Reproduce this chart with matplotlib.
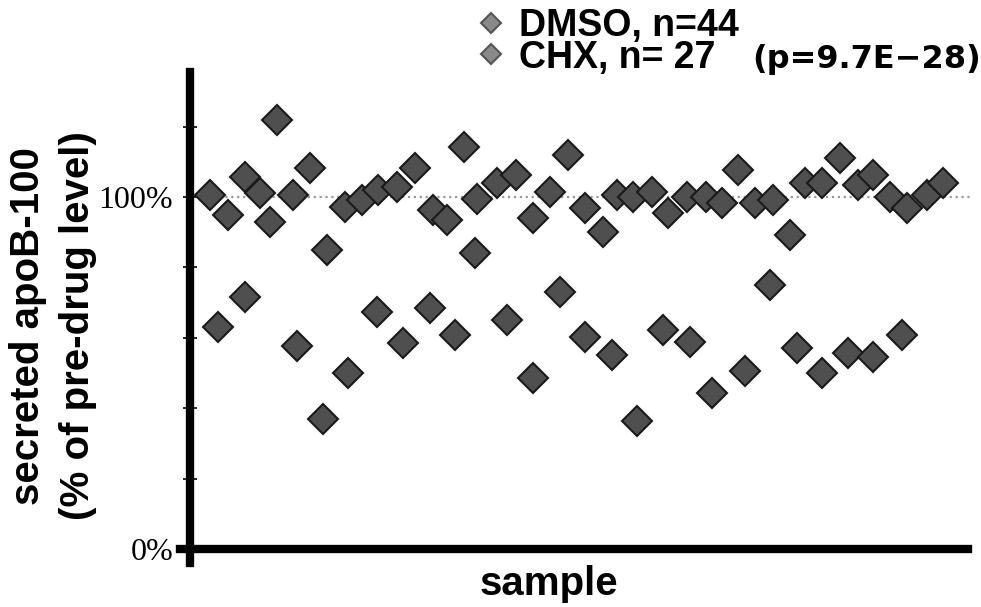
# -*- coding: utf-8 -*-

'''
secreted apoB-100 per sample, DMSO vs CHX
'''

# imports
import matplotlib
matplotlib.use('Agg')
import matplotlib.pyplot as plt
from matplotlib.ticker import FixedLocator, FuncFormatter

################################################################################

# DMSO, n=44 (sample position, % of pre-drug level)
dmso_x = [1.9, 3.7, 5.3, 6.7, 7.7, 8.4, 9.9, 11.5, 14.9, 16.5, 18.1, 19.9,
          21.6, 23.4, 24.7, 26.3, 27.6, 29.5, 31.3, 33.0, 34.6, 36.3, 38.0,
          39.7, 41.1, 42.6, 44.4, 46.0, 47.8, 49.6, 51.2, 52.7, 54.3, 56.1,
          57.7, 59.1, 60.8, 62.5, 64.2, 65.7, 67.3, 68.9, 70.9, 72.4]
dmso_y = [100.6, 94.9, 105.7, 101.1, 92.9, 121.9, 100.6, 108.3, 97.2, 99.1,
          102.0, 102.8, 108.3, 96.3, 93.4, 114.2, 99.4, 104.0, 106.3, 94.0,
          101.4, 112.0, 96.9, 90.0, 100.6, 100.0, 101.4, 95.4, 100.0, 100.0,
          98.3, 107.7, 98.3, 99.1, 89.2, 104.0, 104.0, 111.1, 103.4, 106.3,
          100.0, 96.9, 100.6, 104.0]

# CHX, n=27
chx_x = [2.7, 5.3, 10.3, 12.8, 13.2, 15.2, 18.0, 20.5, 23.1, 25.5, 27.4,
         30.5, 33.0, 35.6, 38.0, 40.6, 43.0, 45.5, 48.1, 50.2, 53.4, 55.8,
         58.4, 60.8, 63.3, 65.7, 68.5]
chx_y = [63.0, 71.5, 57.8, 37.0, 84.9, 50.1, 67.2, 58.4, 68.4, 60.7, 84.0,
         65.0, 48.7, 72.9, 60.1, 55.0, 36.5, 62.1, 58.7, 44.4, 50.7, 74.9,
         57.0, 49.9, 55.8, 54.4, 60.7]

labels = ['DMSO, n=44', 'CHX, n= 27']
p_text = '(p=9.7E\u221228)'
y_ticks = [0, 20, 40, 60, 80, 100, 120]
y_labelled = {0: '0%', 100: '100%'}

################################################################################

W, H = 981, 607
fig = plt.figure(figsize=(W / 100, H / 100), dpi=100)
ax = fig.add_axes([190 / W, (H - 549) / H, 780 / W, 477 / H])

ax.axhline(100, color='#9a9a9a', ls=':', lw=1.6, zorder=1)

mk = dict(ls='none', marker='D', ms=15, mfc='#4f4f4f', mec='#1a1a1a',
          mew=1.5, zorder=3)
h1, = ax.plot(dmso_x, dmso_y, **mk)
h2, = ax.plot(chx_x, chx_y, **mk)

ax.set_xlim(0, 75)
ax.set_ylim(0, 135.5)

for s in ['top', 'right']:
    ax.spines[s].set_visible(False)
ax.spines['left'].set_linewidth(6)
ax.spines['bottom'].set_linewidth(6)
ax.spines['left'].set_bounds(-4, 135.5)
ax.spines['bottom'].set_bounds(-1.0, 74.8)

ax.set_xticks([])
ax.yaxis.set_major_locator(FixedLocator(y_ticks))
ax.yaxis.set_major_formatter(FuncFormatter(lambda v, p: y_labelled.get(int(round(v)), '')))
ax.tick_params(axis='y', direction='inout', length=10, width=1.2, pad=7,
               labelsize=23)
for t in ax.get_yticklabels():
    t.set_fontfamily('Liberation Serif')

bold = dict(family='Liberation Sans', weight='bold')
fig.text(53 / W, 1 - 326 / H, 'secreted apoB-100\n(% of pre-drug level)',
         rotation=90, ha='center', va='center', fontsize=29, linespacing=1.38,
         **bold)
fig.text(549 / W, 1 - 595 / H, 'sample', ha='center', va='baseline',
         fontsize=29, **bold)

leg = ax.legend([h1, h2], labels, loc='upper left',
                bbox_to_anchor=(476 / W, 1 - 8 / H), bbox_transform=fig.transFigure,
                frameon=False, borderpad=0, borderaxespad=0, handlelength=0.8,
                handletextpad=0.35, labelspacing=-0.12, markerscale=0.7,
                prop=dict(size=27, **bold))
for hd in leg.legend_handles:
    hd.set_markerfacecolor('#8a8a8a')
    hd.set_markeredgecolor('#555555')
fig.text(752 / W, 1 - 68 / H, p_text, ha='left', va='baseline',
         fontsize=23, family='DejaVu Sans', weight='bold')

fig.savefig('out.png', dpi=100)
